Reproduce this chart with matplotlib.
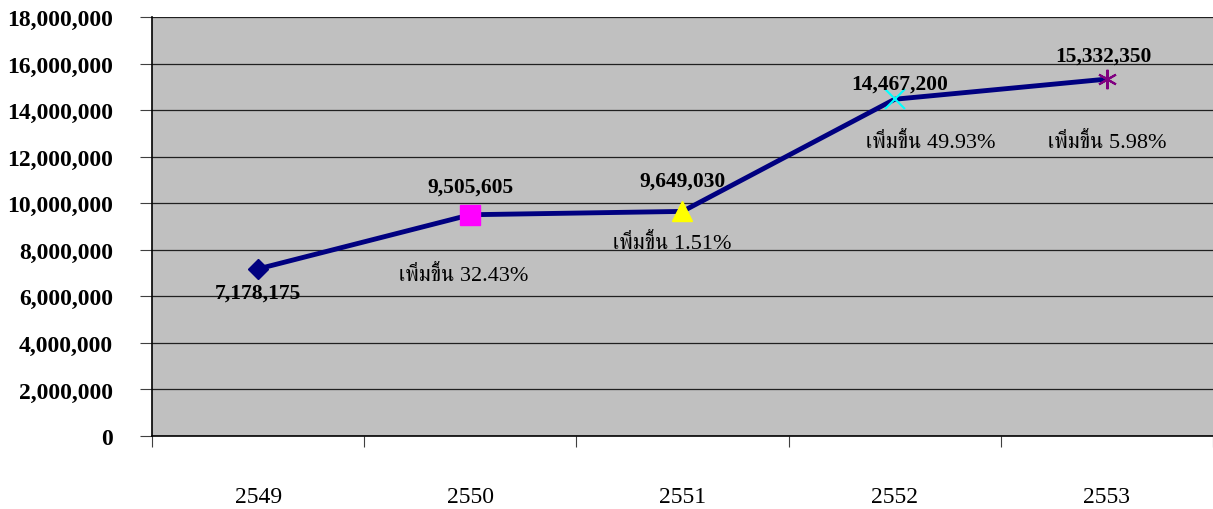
import matplotlib
matplotlib.use('Agg')
import matplotlib.pyplot as plt
from matplotlib import font_manager
from matplotlib.ft2font import FT2Font
from matplotlib.ticker import FuncFormatter, FixedLocator

# data
years = ['2549', '2550', '2551', '2552', '2553']
values = [7178175, 9505605, 9649030, 14467200, 15332350]
growth = ['', 'เพิ่มขึ้น 32.43%', 'เพิ่มขึ้น 1.51%', 'เพิ่มขึ้น 49.93%', 'เพิ่มขึ้น 5.98%']

# find a font that has Thai glyphs (prefer serif)
thai_font = None
cands = []
for f in font_manager.fontManager.ttflist:
    try:
        cmap = FT2Font(f.fname).get_charmap()
    except Exception:
        continue
    if 0x0E40 in cmap:
        cands.append(f.name)
for name in cands:
    if 'Serif' in name:
        thai_font = name
        break
if thai_font is None and cands:
    thai_font = cands[0]
serif = ['Liberation Serif'] + ([thai_font] if thai_font else []) + ['DejaVu Sans']
plt.rcParams['font.family'] = serif

markers = ['D', 's', '^', 'x', (6, 2, 0)]
mcolors = ['#000080', '#FF00FF', '#FFFF00', '#00FFFF', '#800080']
msizes = [10, 14, 14, 14, 14]

fig = plt.figure(figsize=(12.13, 5.10), dpi=100)
ax = fig.add_axes([0.1253, 0.1431, 0.8747, 0.8216])
ax.set_facecolor('#C0C0C0')

x = list(range(len(years)))
ax.plot(x, values, color='#000080', lw=3.5, zorder=3)
for i in x:
    if markers[i] in ('x', (6, 2, 0)):
        ax.plot(x[i], values[i], marker=markers[i], color=mcolors[i], ms=msizes[i],
                mew=1.5, zorder=4, clip_on=False)
    else:
        ax.plot(x[i], values[i], marker=markers[i], color=mcolors[i], ms=msizes[i],
                mec=mcolors[i], zorder=4, clip_on=False)

ax.set_xlim(-0.5, 4.5)
ax.set_ylim(0, 18000000)
ax.set_yticks(range(0, 18000001, 2000000))
ax.yaxis.set_major_formatter(FuncFormatter(lambda v, p: f'{int(v):,}'))
ax.grid(axis='y', color='#202020', lw=0.9)
ax.set_axisbelow(True)

ax.set_xticks(x)
ax.set_xticklabels(years, fontsize=17)
ax.xaxis.set_minor_locator(FixedLocator([i - 0.5 for i in range(6)]))
ax.tick_params(axis='x', which='major', length=0, pad=36)
ax.tick_params(axis='x', which='minor', length=8, width=0.8, color='#404040')
ax.tick_params(axis='y', length=9, width=0.8, pad=19, labelsize=17, color='#404040')
for t in ax.get_yticklabels():
    t.set_fontweight('bold')

for s in ['top', 'right']:
    ax.spines[s].set_visible(False)
ax.spines['left'].set_color('black')
ax.spines['bottom'].set_color('black')
ax.spines['left'].set_linewidth(1.2)
ax.spines['bottom'].set_linewidth(1.2)

px = 72 / 100
val_off = [(0, -29), (0, 23), (0, 26), (5, 11), (-3, 19)]
for i in x:
    dx, dy = val_off[i]
    ax.annotate(f'{values[i]:,}', (x[i], values[i]), xytext=(dx * px, dy * px),
                textcoords='offset points', ha='center', va='baseline',
                fontsize=15.5, fontweight='bold', zorder=5)

thai_off = [(0, 0), (-7, -65), (-10, -37), (36, -48), (0, -68)]
for i in x:
    if not growth[i]:
        continue
    dx, dy = thai_off[i]
    ax.annotate(growth[i], (x[i], values[i]), xytext=(dx * px, dy * px),
                textcoords='offset points', ha='center', va='baseline',
                fontsize=16, zorder=5)

fig.savefig('out.png', dpi=100)
